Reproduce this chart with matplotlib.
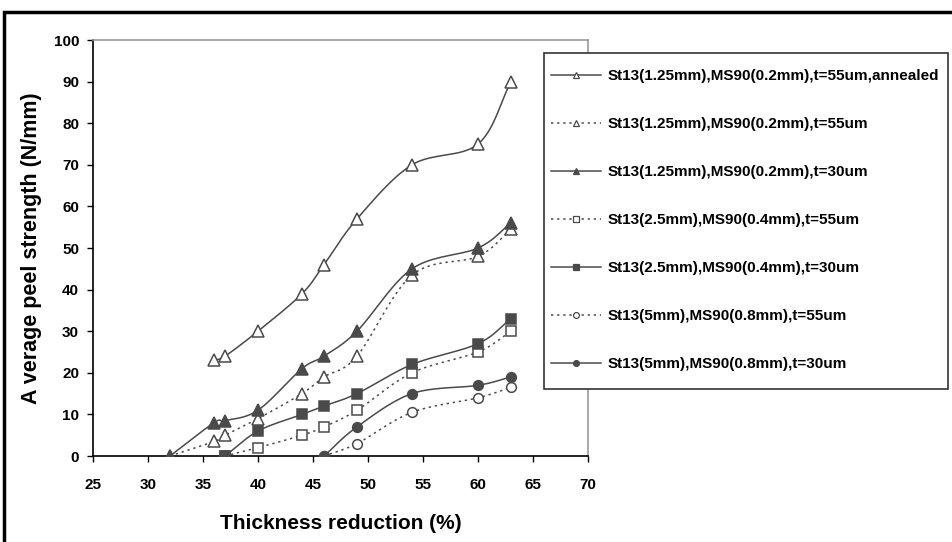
import numpy as np
import matplotlib
matplotlib.use("Agg")
import matplotlib.pyplot as plt
from matplotlib.patches import Rectangle

plt.rcParams['font.family'] = ['Liberation Sans', 'DejaVu Sans']
plt.rcParams['font.weight'] = 'bold'

# ---- data ----
labels = [
    "St13(1.25mm),MS90(0.2mm),t=55um,annealed",
    "St13(1.25mm),MS90(0.2mm),t=55um",
    "St13(1.25mm),MS90(0.2mm),t=30um",
    "St13(2.5mm),MS90(0.4mm),t=55um",
    "St13(2.5mm),MS90(0.4mm),t=30um",
    "St13(5mm),MS90(0.8mm),t=55um",
    "St13(5mm),MS90(0.8mm),t=30um",
]
x_s1 = [36, 37, 40, 44, 46, 49, 54, 60, 63]
y_s1 = [23, 24, 30, 39, 46, 57, 70, 75, 90]
x_s2 = [32, 36, 37, 40, 44, 46, 49, 54, 60, 63]
y_s2 = [0, 3.5, 5, 9, 15, 19, 24, 43.5, 48, 54.5]
x_s3 = [32, 36, 37, 40, 44, 46, 49, 54, 60, 63]
y_s3 = [0, 8, 8.5, 11, 21, 24, 30, 45, 50, 56]
x_s4 = [37, 40, 44, 46, 49, 54, 60, 63]
y_s4 = [0, 2, 5, 7, 11, 20, 25, 30]
x_s5 = [37, 40, 44, 46, 49, 54, 60, 63]
y_s5 = [0, 6, 10, 12, 15, 22, 27, 33]
x_s6 = [46, 49, 54, 60, 63]
y_s6 = [0, 3, 10.5, 14, 16.5]
x_s7 = [46, 49, 54, 60, 63]
y_s7 = [0, 7, 15, 17, 19]
x_ticks = [25, 30, 35, 40, 45, 50, 55, 60, 65, 70]
y_ticks = [0, 10, 20, 30, 40, 50, 60, 70, 80, 90, 100]

series = [(x_s1, y_s1), (x_s2, y_s2), (x_s3, y_s3), (x_s4, y_s4),
          (x_s5, y_s5), (x_s6, y_s6), (x_s7, y_s7)]

LC = '#4a4a4a'
DOT = (0, (1.5, 2.5))
styles = [
    dict(ls='-', marker='^', mfc='white', ms=8),
    dict(ls=DOT, marker='^', mfc='white', ms=8),
    dict(ls='-', marker='^', mfc=LC, ms=8),
    dict(ls=DOT, marker='s', mfc='white', ms=7),
    dict(ls='-', marker='s', mfc=LC, ms=7),
    dict(ls=DOT, marker='o', mfc='white', ms=7),
    dict(ls='-', marker='o', mfc=LC, ms=7),
]


def smooth(x, y, n=20):
    x = np.asarray(x, float); y = np.asarray(y, float)
    px = np.concatenate([[2 * x[0] - x[1]], x, [2 * x[-1] - x[-2]]])
    py = np.concatenate([[2 * y[0] - y[1]], y, [2 * y[-1] - y[-2]]])
    xs, ys = [], []
    t = np.linspace(0, 1, n)
    for i in range(1, len(px) - 2):
        p0x, p1x, p2x, p3x = px[i-1:i+3]
        p0y, p1y, p2y, p3y = py[i-1:i+3]
        t2, t3 = t * t, t * t * t
        cx = 0.5 * ((2 * p1x) + (-p0x + p2x) * t + (2*p0x - 5*p1x + 4*p2x - p3x) * t2 + (-p0x + 3*p1x - 3*p2x + p3x) * t3)
        cy = 0.5 * ((2 * p1y) + (-p0y + p2y) * t + (2*p0y - 5*p1y + 4*p2y - p3y) * t2 + (-p0y + 3*p1y - 3*p2y + p3y) * t3)
        xs.append(cx); ys.append(cy)
    return np.concatenate(xs), np.concatenate(ys)


W, H = 953, 542
fig = plt.figure(figsize=(W/100, H/100), dpi=100)
ax = fig.add_axes([93/W, 1-456/H, (588-93)/W, (456-40)/H])

handles = []
for (xs, ys), st, lab in zip(series, styles, labels):
    sx, sy = smooth(xs, ys)
    ax.plot(sx, sy, color=LC, lw=1.1, ls=st['ls'], zorder=2)
    ax.plot(xs, ys, ls='none', marker=st['marker'], mfc=st['mfc'], mec=LC,
            ms=st['ms'], mew=1.1, zorder=3)
    h, = ax.plot([], [], color=LC, lw=1.1, ls=st['ls'], marker=st['marker'],
                 mfc=st['mfc'], mec=LC, ms=st['ms'] * 0.6, mew=0.9)
    handles.append(h)

ax.set_xlim(25, 70)
ax.set_ylim(0, 100)
ax.set_xticks(x_ticks)
ax.set_yticks(y_ticks)
ax.tick_params(direction='out', length=4, width=1, labelsize=11, colors='black')
ax.tick_params(axis='x', pad=12)
ax.tick_params(axis='y', pad=6)
for lab in ax.get_xticklabels() + ax.get_yticklabels():
    lab.set_fontweight('bold')
ax.spines['left'].set_color('black')
ax.spines['bottom'].set_color('black')
ax.spines['top'].set_color('#999999')
ax.spines['right'].set_color('#999999')
for s in ax.spines.values():
    s.set_linewidth(1.2)
ax.set_xlabel('Thickness reduction (%)', fontsize=15, fontweight='bold', labelpad=16)
ax.set_ylabel('A verage peel strength (N/mm)', fontsize=15.5, fontweight='bold', labelpad=8)

# legend frame (white box overlapping the plot)
fig.patches.append(Rectangle((544/W, 1-389/H), (948-544)/W, (389-53)/H,
                             transform=fig.transFigure, facecolor='white',
                             edgecolor='#333333', lw=1.2, zorder=4))
leg = fig.legend(handles, labels, loc='upper left',
                 bbox_to_anchor=(551/W, 1-69/H), borderaxespad=0,
                 frameon=False, borderpad=0,
                 prop=dict(size=11, weight='bold'), labelspacing=2.23,
                 handlelength=3.3, handletextpad=0.4)
leg.set_zorder(5)

fig.patches.append(Rectangle((4/W, -0.1), 1.2, 1 - 12/H + 0.1,
                             transform=fig.transFigure, fill=False,
                             edgecolor='black', lw=2.5, zorder=6))

fig.savefig('out.png', dpi=100)
